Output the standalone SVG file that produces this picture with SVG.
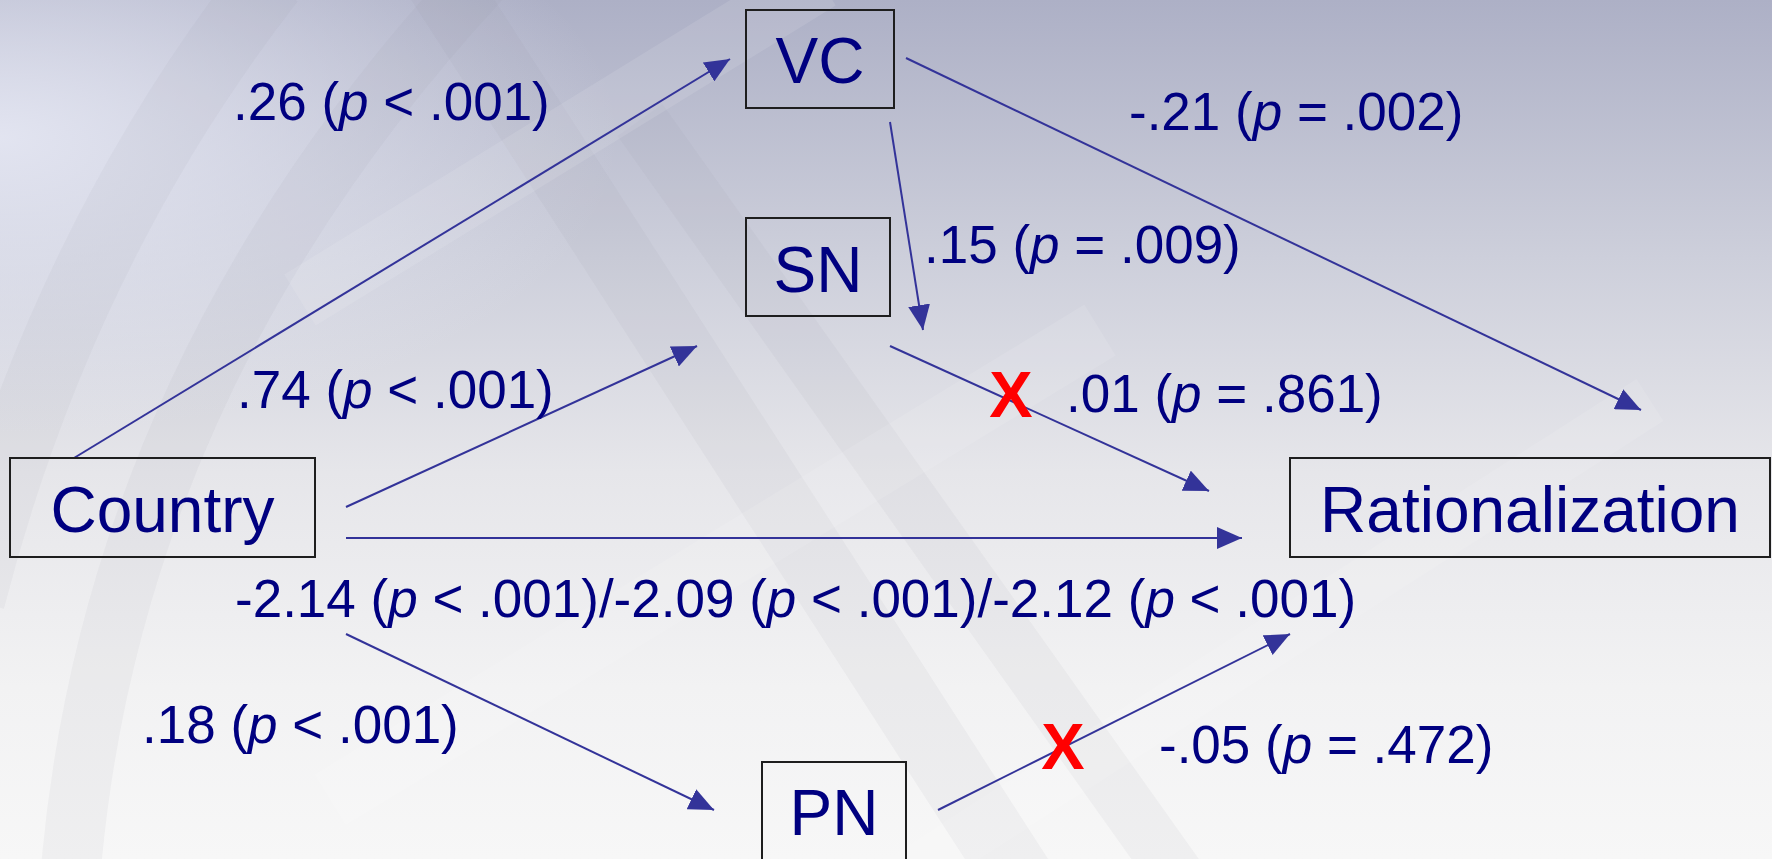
<svg xmlns="http://www.w3.org/2000/svg" width="1772" height="859" viewBox="0 0 1772 859">
  <defs>
    <linearGradient id="bg" x1="0" y1="0" x2="0" y2="1">
      <stop offset="0" stop-color="#adb0c6"/>
      <stop offset="0.3" stop-color="#cdcfdb"/>
      <stop offset="0.55" stop-color="#e6e6ea"/>
      <stop offset="0.8" stop-color="#f2f2f3"/>
      <stop offset="1" stop-color="#f7f7f7"/>
    </linearGradient>
    <radialGradient id="glow" cx="0" cy="0.16" r="0.35">
      <stop offset="0" stop-color="#e6e8f4" stop-opacity="0.9"/>
      <stop offset="1" stop-color="#e6e8f4" stop-opacity="0"/>
    </radialGradient>
    <marker id="arrow" markerUnits="userSpaceOnUse" markerWidth="26" markerHeight="22" refX="25" refY="11" orient="auto" viewBox="0 0 26 22">
      <path d="M0,0 L25,11 L0,22 Z" fill="#333399"/>
    </marker>
    <style>
      .box { fill: none; stroke: #1e1e1e; stroke-width: 2; }
      .node { font-family: "Liberation Sans", Arial, sans-serif; font-size: 64px; fill: #000080; text-anchor: middle; }
      .lbl { font-family: "Liberation Sans", Arial, sans-serif; font-size: 53px; fill: #000080; }
      .it { font-style: italic; }
      .x { font-family: "Liberation Sans", Arial, sans-serif; font-size: 65px; font-weight: bold; fill: #ff0000; text-anchor: middle; }
      .edge { stroke: #333399; stroke-width: 2; fill: none; marker-end: url(#arrow); }
      .wm { fill: none; stroke: #8f90a0; stroke-opacity: 0.07; }
      .wl { fill: none; stroke: #ffffff; stroke-opacity: 0.1; }
    </style>
  </defs>

  <g id="background">
    <rect x="0" y="0" width="1772" height="859" fill="url(#bg)"/>
    <rect x="0" y="0" width="1772" height="859" fill="url(#glow)"/>
    <path class="wm" stroke-width="70" d="M-30,600 Q60,250 270,-20"/>
    <path class="wm" stroke-width="60" d="M70,880 Q110,380 480,-20"/>
    <path class="wm" stroke-width="70" d="M440,-20 L1020,880"/>
    <path class="wm" stroke-width="55" d="M640,120 L1180,880"/>
    <path class="wl" stroke-width="60" d="M300,300 L820,-20"/>
    <path class="wl" stroke-width="60" d="M330,800 L1100,330"/>
    <path class="wl" stroke-width="50" d="M900,880 L1650,400"/>
  </g>

  <g id="connectors">
    <line class="edge" x1="74" y1="458" x2="730" y2="59"/>
    <line class="edge" x1="346" y1="507" x2="697" y2="346"/>
    <line class="edge" x1="346" y1="538" x2="1242" y2="538" stroke-width="2.5"/>
    <line class="edge" x1="346" y1="634" x2="714" y2="810"/>
    <line class="edge" x1="890" y1="122" x2="923" y2="330"/>
    <line class="edge" x1="906" y1="58" x2="1641" y2="410"/>
    <line class="edge" x1="890" y1="346" x2="1209" y2="491"/>
    <line class="edge" x1="938" y1="810" x2="1290" y2="634"/>
  </g>

  <g id="node-vc">
    <rect class="box" x="746" y="10" width="148" height="98"/>
    <text class="node" x="820" y="83">VC</text>
  </g>
  <g id="node-sn">
    <rect class="box" x="746" y="218" width="144" height="98"/>
    <text class="node" x="818" y="292">SN</text>
  </g>
  <g id="node-country">
    <rect class="box" x="10" y="458" width="305" height="99"/>
    <text class="node" x="162.5" y="532">Country</text>
  </g>
  <g id="node-rationalization">
    <rect class="box" x="1290" y="458" width="480" height="99"/>
    <text class="node" x="1530" y="532">Rationalization</text>
  </g>
  <g id="node-pn">
    <rect class="box" x="762" y="762" width="144" height="99"/>
    <text class="node" x="834" y="835">PN</text>
  </g>

  <g id="labels">
    <text class="lbl" x="233" y="120">.26 (<tspan class="it">p</tspan> &lt; .001)</text>
    <text class="lbl" x="237" y="408">.74 (<tspan class="it">p</tspan> &lt; .001)</text>
    <text class="lbl" x="1129" y="130">-.21 (<tspan class="it">p</tspan> = .002)</text>
    <text class="lbl" x="924" y="263">.15 (<tspan class="it">p</tspan> = .009)</text>
    <text class="lbl" x="1066" y="412">.01 (<tspan class="it">p</tspan> = .861)</text>
    <text class="lbl" x="235" y="617">-2.14 (<tspan class="it">p</tspan> &lt; .001)/-2.09 (<tspan class="it">p</tspan> &lt; .001)/-2.12 (<tspan class="it">p</tspan> &lt; .001)</text>
    <text class="lbl" x="142" y="743">.18 (<tspan class="it">p</tspan> &lt; .001)</text>
    <text class="lbl" x="1159" y="763">-.05 (<tspan class="it">p</tspan> = .472)</text>
  </g>

  <g id="marks">
    <text class="x" x="1011" y="417">X</text>
    <text class="x" x="1063" y="769">X</text>
  </g>
</svg>
